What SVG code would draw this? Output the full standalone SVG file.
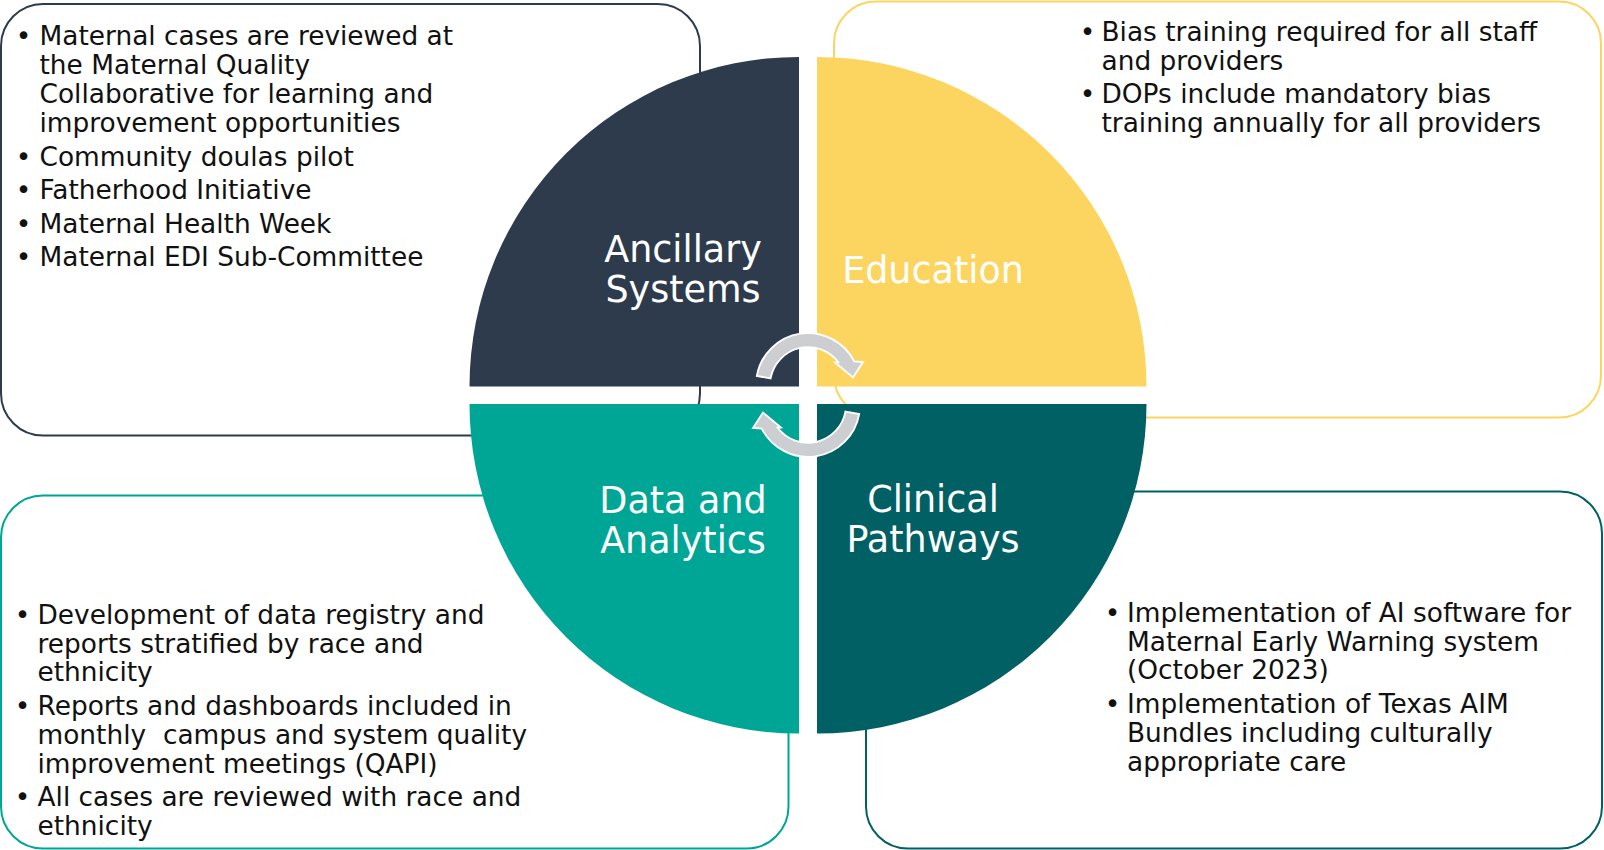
<svg xmlns="http://www.w3.org/2000/svg" xmlns:xlink="http://www.w3.org/1999/xlink" width="1604" height="850" viewBox="0 0 1604 850">
<style>
.box{fill:none;stroke-width:2}
.body{font-family:"DejaVu Sans",Verdana,sans-serif;font-size:26.4px;fill:#111111}
.bul{font-family:"DejaVu Sans",Verdana,sans-serif;font-size:26.4px;fill:#111111;text-anchor:middle}
.lbl{font-family:"DejaVu Sans",Verdana,sans-serif;font-size:36.5px;fill:#ffffff;text-anchor:middle}
.arr{fill:#CDCED1;stroke:#ffffff;stroke-width:1.8;stroke-linejoin:miter}
</style>
<defs>
<path id="carrow" d="M756.8,376 A52,52 0 0 1 854.3,361.4 L863,362 L853,377.5 L835,362.5 L838.3,362.3 A38,38 0 0 0 770.6,378.4 Z"/>
</defs>
<rect width="1604" height="850" fill="#ffffff"/>

<g id="node-ancillary">
<rect class="box" x="1" y="4" width="699" height="431.5" rx="42" ry="42" stroke="#2D3B4C"/>
<path d="M799,386.5 H469.5 A329.5,329.5 0 0 1 799,57 Z" fill="#2D3B4C"/>
<text class="lbl" x="683" y="262">Ancillary</text>
<text class="lbl" x="683" y="302">Systems</text>
<text class="bul" x="23.5" y="45">•</text>
<text class="body" x="39.5" y="45">Maternal cases are reviewed at</text>
<text class="body" x="39.5" y="74">the Maternal Quality</text>
<text class="body" x="39.5" y="103">Collaborative for learning and</text>
<text class="body" x="39.5" y="132">improvement opportunities</text>
<text class="bul" x="23.5" y="166">•</text>
<text class="body" x="39.5" y="166">Community doulas pilot</text>
<text class="bul" x="23.5" y="199">•</text>
<text class="body" x="39.5" y="199">Fatherhood Initiative</text>
<text class="bul" x="23.5" y="232.5">•</text>
<text class="body" x="39.5" y="232.5">Maternal Health Week</text>
<text class="bul" x="23.5" y="266">•</text>
<text class="body" x="39.5" y="266">Maternal EDI Sub-Committee</text>
</g>

<g id="node-education">
<rect class="box" x="834" y="1.5" width="767" height="416" rx="42" ry="42" stroke="#FCD560"/>
<path d="M817,386.5 V57 A329.5,329.5 0 0 1 1146.5,386.5 Z" fill="#FCD560"/>
<text class="lbl" x="933" y="283">Education</text>
<text class="bul" x="1087.5" y="41">•</text>
<text class="body" x="1101.5" y="41">Bias training required for all staff</text>
<text class="body" x="1101.5" y="70">and providers</text>
<text class="bul" x="1087.5" y="102.5">•</text>
<text class="body" x="1101.5" y="102.5">DOPs include mandatory bias</text>
<text class="body" x="1101.5" y="131.5">training annually for all providers</text>
</g>

<g id="node-data">
<rect class="box" x="1" y="495.5" width="787.5" height="353" rx="42" ry="42" stroke="#00A695"/>
<path d="M799,404 V733.5 A329.5,329.5 0 0 1 469.5,404 Z" fill="#00A695"/>
<text class="lbl" x="683" y="513">Data and</text>
<text class="lbl" x="683" y="553">Analytics</text>
<text class="bul" x="22.5" y="623.5">•</text>
<text class="body" x="37.5" y="623.5">Development of data registry and</text>
<text class="body" x="37.5" y="652.5">reports stratified by race and</text>
<text class="body" x="37.5" y="681">ethnicity</text>
<text class="bul" x="22.5" y="715">•</text>
<text class="body" x="37.5" y="715">Reports and dashboards included in</text>
<text class="body" x="37.5" y="743.5" style="white-space:pre" xml:space="preserve">monthly  campus and system quality</text>
<text class="body" x="37.5" y="772.5">improvement meetings (QAPI)</text>
<text class="bul" x="22.5" y="806">•</text>
<text class="body" x="37.5" y="806">All cases are reviewed with race and</text>
<text class="body" x="37.5" y="835">ethnicity</text>
</g>

<g id="node-clinical">
<rect class="box" x="866" y="491.5" width="736" height="357" rx="42" ry="42" stroke="#006064"/>
<path d="M817,404 H1146.5 A329.5,329.5 0 0 1 817,733.5 Z" fill="#006064"/>
<text class="lbl" x="933" y="512">Clinical</text>
<text class="lbl" x="933" y="552">Pathways</text>
<text class="bul" x="1112.5" y="621.5">•</text>
<text class="body" x="1127" y="621.5">Implementation of AI software for</text>
<text class="body" x="1127" y="650.5">Maternal Early Warning system</text>
<text class="body" x="1127" y="679">(October 2023)</text>
<text class="bul" x="1112.5" y="713">•</text>
<text class="body" x="1127" y="713">Implementation of Texas AIM</text>
<text class="body" x="1127" y="742">Bundles including culturally</text>
<text class="body" x="1127" y="770.5">appropriate care</text>
</g>

<g id="connectors">
<use xlink:href="#carrow" href="#carrow" class="arr"/>
<use xlink:href="#carrow" href="#carrow" class="arr" transform="rotate(180 808 395)"/>
</g>
</svg>
